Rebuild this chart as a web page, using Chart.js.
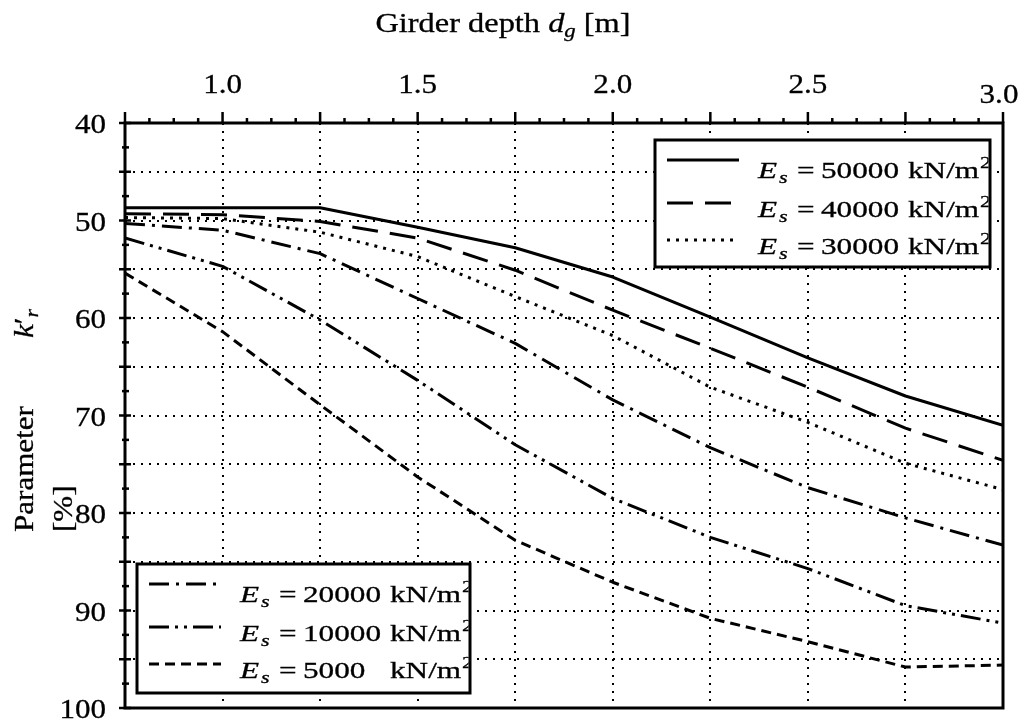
<!DOCTYPE html>
<html>
<head>
<meta charset="utf-8">
<title>Girder depth vs k'r</title>
<script src="https://cdn.jsdelivr.net/npm/chart.js@4.4.1/dist/chart.umd.min.js"></script>
<style>
  html, body { margin: 0; padding: 0; background: #fff; }
  canvas { display: block; }
</style>
</head>
<body>
<canvas id="grafico" width="1025" height="722"></canvas>
<script>
// Girder depth d_g [m]
const profundidad = [0.75, 1.0, 1.25, 1.5, 1.75, 2.0, 2.25, 2.5, 2.75, 3.0];

// Parameter k'r [%] for each soil modulus Es
const es50000 = [48.7, 48.7, 48.7, 50.7, 52.8, 55.8, 59.9, 64.1, 68.0, 71.0];
const es40000 = [49.3, 49.4, 50.1, 51.8, 55.1, 59.2, 63.1, 67.1, 71.3, 74.6];
const es30000 = [49.7, 49.8, 51.2, 53.7, 57.8, 61.8, 67.1, 70.7, 74.9, 77.6];
const es20000 = [50.3, 51.0, 53.4, 58.0, 62.6, 68.4, 73.3, 77.4, 80.5, 83.3];
const es10000 = [51.8, 54.7, 60.2, 66.4, 73.0, 78.5, 82.5, 85.7, 89.5, 91.3];
const es5000  = [55.4, 61.4, 68.9, 76.3, 82.8, 87.1, 90.8, 93.2, 95.8, 95.6];

const modulos = ['50000', '40000', '30000', '20000', '10000', '5000'];

const xTickValues = [1.0, 1.5, 2.0, 2.5, 3.0];
const xTickLabels = ['1.0', '1.5', '2.0', '2.5', '3.0'];
const yTickValues = [40, 50, 60, 70, 80, 90, 100];
const yTickLabels = ['40', '50', '60', '70', '80', '90', '100'];

const series = [es50000, es40000, es30000, es20000, es10000, es5000];
const trazos = [[], [26, 12], [3, 6], [20, 7, 3, 7], [20, 6, 3, 6, 3, 6], [10, 6]];

function fuente(size, italic) {
    return (italic ? 'italic ' : '') + size + 'px "Liberation Serif", "Times New Roman", serif';
}

// text pieces are stretched horizontally like in the original figure
function anchoTexto(ctx, piezas, estirar) {
    let w = 0;
    piezas.forEach(p => {
        ctx.font = fuente(p.size, p.italic);
        w += ctx.measureText(p.t).width * estirar + (p.gap || 0);
    });
    return w;
}

function dibujarTexto(ctx, piezas, x, y, estirar, angulo) {
    ctx.save();
    ctx.translate(x, y);
    if (angulo) ctx.rotate(angulo);
    ctx.fillStyle = '#000';
    ctx.strokeStyle = '#000';
    ctx.lineWidth = 0.3;
    ctx.setLineDash([]);
    ctx.textBaseline = 'alphabetic';
    let cx = 0;
    piezas.forEach(p => {
        ctx.font = fuente(p.size, p.italic);
        ctx.save();
        ctx.translate(cx, p.dy || 0);
        ctx.scale(estirar, 1);
        ctx.fillText(p.t, 0, 0);
        ctx.strokeText(p.t, 0, 0);
        ctx.restore();
        cx += ctx.measureText(p.t).width * estirar + (p.gap || 0);
    });
    ctx.restore();
}

function dibujarLeyenda(ctx, chart, caja, indices) {
    ctx.save();
    ctx.fillStyle = '#fff';
    ctx.fillRect(caja.x, caja.y, caja.w, caja.h);

    const lineaY = [20, 63, 100];
    const textoY = [38, 77, 114];

    indices.forEach((idx, fila) => {
        const ds = chart.data.datasets[idx];
        const ly = caja.y + lineaY[fila];
        ctx.beginPath();
        ctx.setLineDash(ds.borderDash);
        ctx.lineWidth = 3;
        ctx.strokeStyle = '#000';
        ctx.lineCap = 'butt';
        ctx.moveTo(caja.x + 12, ly);
        ctx.lineTo(caja.x + 84, ly);
        ctx.stroke();
        ctx.setLineDash([]);

        // the box border cuts the superscript, as in the original
        ctx.save();
        ctx.beginPath();
        ctx.rect(caja.x + 1.5, caja.y + 1.5, caja.w - 3, caja.h - 3);
        ctx.clip();
        const tx = caja.x + 103;
        const ty = caja.y + textoY[fila];
        const est = 1.3;
        dibujarTexto(ctx, [{ t: 'E', size: 24, italic: true }], tx, ty, est);
        dibujarTexto(ctx, [{ t: 's', size: 17, italic: true }], tx + 21, ty + 5, est);
        dibujarTexto(ctx, [{ t: '=', size: 24 }], tx + 39, ty, est);
        dibujarTexto(ctx, [{ t: modulos[idx], size: 24 }], tx + 63, ty, est);
        const wUnit = anchoTexto(ctx, [{ t: 'kN/m', size: 24 }], est);
        dibujarTexto(ctx, [{ t: 'kN/m', size: 24 }], tx + 150, ty, est);
        dibujarTexto(ctx, [{ t: '2', size: 17 }], tx + 150 + wUnit + 1, ty - 10, est);
        ctx.restore();
    });

    ctx.lineWidth = 3;
    ctx.strokeStyle = '#000';
    ctx.strokeRect(caja.x, caja.y, caja.w, caja.h);
    ctx.restore();
}

const ejesPlugin = {
    id: 'ejes',
    afterDraw(chart) {
        const ctx = chart.ctx;
        const a = chart.chartArea;
        const xs = chart.scales.x;
        const ys = chart.scales.y;

        ctx.save();
        ctx.strokeStyle = '#000';
        ctx.lineCap = 'butt';

        // minor and major tick marks on the top axis
        ctx.lineWidth = 2.5;
        for (let v = 0.75; v <= 3.0001; v += 0.0625) {
            const px = xs.getPixelForValue(v);
            const mayor = Math.abs(v / 0.25 - Math.round(v / 0.25)) < 1e-6;
            ctx.beginPath();
            ctx.moveTo(px, a.top);
            ctx.lineTo(px, a.top - (mayor ? 11 : 5));
            ctx.stroke();
        }
        // tick marks on the left axis
        for (let v = 40; v <= 100; v += 2.5) {
            const py = ys.getPixelForValue(v);
            const mayor = v % 5 === 0;
            ctx.beginPath();
            ctx.moveTo(a.left - (mayor ? 6 : 3), py);
            ctx.lineTo(a.left + (mayor ? 6 : 4), py);
            ctx.stroke();
        }

        dibujarLeyenda(ctx, chart, { x: 655, y: 140, w: 335, h: 127 }, [0, 1, 2]);
        dibujarLeyenda(ctx, chart, { x: 137, y: 564, w: 333, h: 129 }, [3, 4, 5]);

        // frame
        ctx.lineWidth = 3;
        ctx.strokeRect(a.left, a.top, a.right - a.left, a.bottom - a.top);

        // tick labels
        const estTick = 1.15;
        xTickValues.forEach((v, i) => {
            const piezas = [{ t: xTickLabels[i], size: 27 }];
            const w = anchoTexto(ctx, piezas, estTick);
            const ultimo = i === xTickValues.length - 1;
            const px = xs.getPixelForValue(v) - w / 2 - (ultimo ? 4 : 0);
            dibujarTexto(ctx, piezas, px, a.top - 30 + (ultimo ? 10 : 0), estTick);
        });
        yTickValues.forEach((v, i) => {
            const piezas = [{ t: yTickLabels[i], size: 27 }];
            const w = anchoTexto(ctx, piezas, estTick);
            dibujarTexto(ctx, piezas, a.left - 19 - w, ys.getPixelForValue(v) + 10, estTick);
        });

        // axis titles
        const titulo = [
            { t: 'Girder depth ', size: 27 },
            { t: 'd', size: 27, italic: true },
            { t: 'g', size: 19, italic: true, dy: 5 },
            { t: ' [m]', size: 27 }
        ];
        const wt = anchoTexto(ctx, titulo, 1.2);
        dibujarTexto(ctx, titulo, 503 - wt / 2, 32, 1.2);

        dibujarTexto(ctx, [{ t: 'Parameter', size: 27 }], 33, 532, 1.15, -Math.PI / 2);
        dibujarTexto(ctx, [{ t: '[%]', size: 27 }], 72, 532, 1.15, -Math.PI / 2);
        dibujarTexto(ctx, [
            { t: 'k', size: 27, italic: true },
            { t: '\u2032', size: 27 },
            { t: 'r', size: 19, italic: true, dy: 5 }
        ], 33, 338, 1.15, -Math.PI / 2);

        ctx.restore();
    }
};

const ctx = document.getElementById('grafico').getContext('2d');

new Chart(ctx, {
    type: 'line',
    data: {
        datasets: series.map((valores, i) => ({
            label: 'Es = ' + modulos[i] + ' kN/m2',
            data: profundidad.map((x, j) => ({ x: x, y: valores[j] })),
            borderColor: '#000000',
            borderWidth: 3,
            borderDash: trazos[i],
            borderCapStyle: 'butt',
            borderJoinStyle: 'round',
            pointRadius: 0,
            fill: false,
            tension: 0
        }))
    },
    options: {
        responsive: false,
        animation: false,
        layout: { padding: { left: 125, top: 123, right: 22, bottom: 14 } },
        plugins: {
            legend: { display: false },
            tooltip: { enabled: false }
        },
        scales: {
            x: {
                type: 'linear',
                position: 'top',
                min: 0.75,
                max: 3.0,
                ticks: { display: false, stepSize: 0.25 },
                grid: { color: '#000', lineWidth: 2, drawTicks: false },
                border: { display: false, dash: [2, 6] }
            },
            y: {
                min: 40,
                max: 100,
                reverse: true,
                ticks: { display: false, stepSize: 5 },
                grid: { color: '#000', lineWidth: 2, drawTicks: false },
                border: { display: false, dash: [2, 6] }
            }
        }
    },
    plugins: [ejesPlugin]
});
</script>
</body>
</html>
